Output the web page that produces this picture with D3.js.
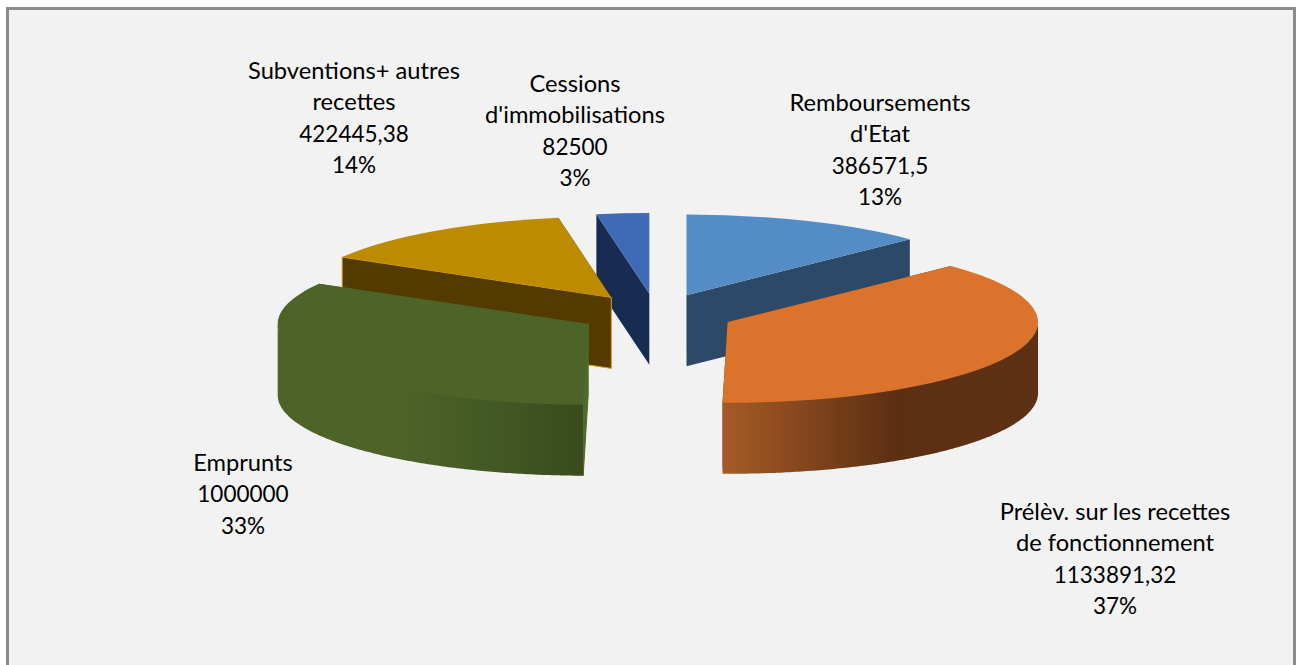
<!DOCTYPE html>
<html lang="fr">
<head>
    <meta charset="UTF-8">
    <title>Recettes</title>
    <script src="https://d3js.org/d3.v7.min.js"></script>
    <style>
        html, body { margin: 0; padding: 0; background: #fff; }
        svg { display: block; }
        .label { font-family: Lato, sans-serif; fill: #000; text-anchor: middle; }
        .name { font-size: 23.7px; }
        .num { font-size: 22.5px; }
    </style>
</head>
<body>
<svg id="canvas" width="1296" height="665"></svg>
<script>
    // data
    const categories = [
        ["Remboursements", "d'Etat"],
        ["Prélèv. sur les recettes", "de fonctionnement"],
        ["Emprunts"],
        ["Subventions+ autres", "recettes"],
        ["Cessions", "d'immobilisations"]
    ]
    const values = [386571.5, 1133891.32, 1000000, 422445.38, 82500]
    const valueLabels = ["386571,5", "1133891,32", "1000000", "422445,38", "82500"]

    // colours per slice
    const topColors = ["#548dc6", "#db732d", "#4d6328", "#bc8b00", "#3f6ab5"]
    const wallColors = ["#2c4a68", "#5e3013", "#4f6a2a", "#533b00", "#182b50"]
    const edgeColors = ["none", "none", "#4f6b2a", "#dba400", "none"]
    const rimStops = [
        null,
        [[0, "#a65b26"], [0.55, "#5c2f13"], [1, "#5f3114"]],
        [[0, "#4d6328"], [0.4, "#4d6327"], [0.7, "#435924"], [1, "#3a4a1d"]],
        null,
        null
    ]

    // layout
    const width = 1296, height = 665
    const cx = 656, cy = 314
    const rx = 310.5, tilt = 0.26, depth = 71, explode = 78
    const lineHeight = 31.3
    const labelX = [880, 1115, 243, 354, 575]
    const labelY = [111, 520, 471, 79, 92]

    const svg = d3.select("#canvas")

    // frame
    svg.append("rect")
        .attr("x", 7.5).attr("y", 8.5)
        .attr("width", 1287).attr("height", 670)
        .attr("fill", "#f2f2f2")
        .attr("stroke", "#8c8c8c")
        .attr("stroke-width", 3)

    const pie = d3.pie().sort(null).value(d => d.value)
    const slices = pie(values.map((value, i) => ({value, i})))

    const arc = d3.arc().innerRadius(0).outerRadius(rx)

    // project a pie angle on the tilted plate, around the slice's own centre
    const px = (s, a) => s.ox + rx * Math.sin(a)
    const py = (s, a) => s.oy - rx * tilt * Math.cos(a)

    slices.forEach(s => {
        const mid = (s.startAngle + s.endAngle) / 2
        s.mid = mid
        s.ox = cx + explode * Math.sin(mid)
        s.oy = cy - explode * tilt * Math.cos(mid)
    })

    const defs = svg.append("defs")
    rimStops.forEach((stops, i) => {
        if (!stops) return
        defs.append("linearGradient")
            .attr("id", "rim" + i)
            .selectAll("stop")
            .data(stops)
            .enter()
            .append("stop")
            .attr("offset", d => d[0])
            .attr("stop-color", d => d[1])
    })

    // y0 starts a pixel high so no background shows along the seam with the top face
    const rimArea = d3.area()
        .x(d => d.x)
        .y0(d => d.y - 1)
        .y1(d => d.y + depth)

    const pieGroup = svg.append("g")

    // back to front
    slices.slice().sort((a, b) => a.oy - b.oy).forEach(s => {
        const i = s.data.i
        const g = pieGroup.append("g")

        // straight walls, the far one first and without an edge
        ;[s.endAngle, s.startAngle].forEach((a, k) => {
            const x = px(s, a), y = py(s, a)
            const wall = d3.path()
            wall.moveTo(s.ox, s.oy)
            wall.lineTo(x, y)
            wall.lineTo(x, y + depth)
            wall.lineTo(s.ox, s.oy + depth)
            wall.closePath()
            g.append("path")
                .attr("d", wall.toString())
                .attr("fill", wallColors[i])
                .attr("stroke", k === 0 ? "none" : edgeColors[i])
                .attr("stroke-width", 1)
        })

        // outer rim, front half only
        const from = Math.max(s.startAngle, Math.PI / 2)
        const to = Math.min(s.endAngle, Math.PI * 1.5)
        if (from < to) {
            const angles = d3.range(from, to, 0.01).concat([to])
            g.append("path")
                .attr("d", rimArea(angles.map(a => ({x: px(s, a), y: py(s, a)}))))
                .attr("fill", rimStops[i] ? `url(#rim${i})` : wallColors[i])
        }

        // top face
        g.append("path")
            .attr("transform", `translate(${s.ox},${s.oy}) scale(1,${tilt})`)
            .attr("d", arc(s))
            .attr("fill", topColors[i])
    })

    // labels
    const labels = svg.append("g")
    categories.forEach((lines, i) => {
        const pct = Math.round(values[i] / d3.sum(values) * 100) + "%"
        const text = labels.append("text")
            .attr("class", "label")
            .attr("x", labelX[i])
            .attr("y", labelY[i])
        lines.concat([valueLabels[i], pct]).forEach((t, k) => {
            text.append("tspan")
                .attr("class", k < lines.length ? "name" : "num")
                .attr("x", labelX[i])
                .attr("dy", k === 0 ? 0 : lineHeight)
                .text(t)
        })
    })
</script>
</body>
</html>
